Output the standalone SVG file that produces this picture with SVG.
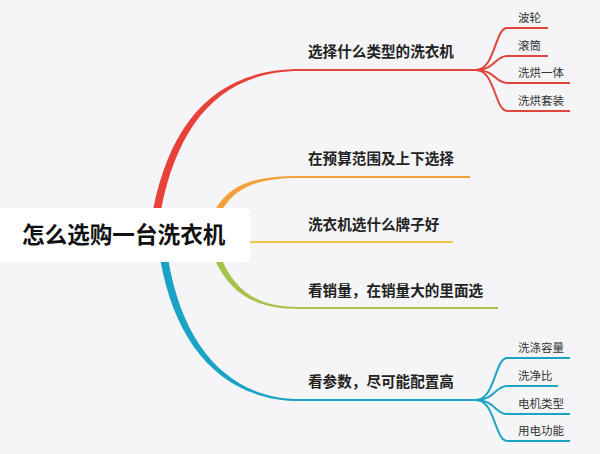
<svg xmlns="http://www.w3.org/2000/svg" width="600" height="454" viewBox="0 0 600 454">
<style>
.main{font-family:"Noto Sans CJK SC","Noto Sans",sans-serif;font-size:14.6px;font-weight:600;fill:#222}
.sub{font-family:"Noto Sans CJK SC","Noto Sans",sans-serif;font-size:11.5px;fill:#333}
.root{font-family:"Noto Sans CJK SC","Noto Sans",sans-serif;font-size:22.6px;font-weight:700;fill:#111}
.ln{fill:none;stroke-width:2}
.red{stroke:#e0453c}.org{stroke:#f2a03a}.yel{stroke:#f5c342}.grn{stroke:#a5c24a}.teal{stroke:#1ba3c4}
</style>
<rect width="600" height="454" fill="#f5f5f7"/>
<g id="connectors">
  <path d="M153,210 C171,119 218,69 300,69 L300,71 C222,71 178,122 161,210 Z" fill="#e8413a"/>
  <path class="ln red" d="M300,70 H478"/>
  <path d="M215,210 C230,184 254,176 300,176 L300,178 C257,178 236,187 222,210 Z" fill="#f2a03a"/>
  <path class="ln org" d="M300,177 H470"/>
  <path class="ln yel" d="M240,242 H453"/>
  <path d="M214,258 C230,294 255,309 300,309 L300,307 C259,307 236,293 221,258 Z" fill="#a5c24a"/>
  <path class="ln grn" d="M300,308 H498"/>
  <path d="M160,258 C176,352 228,401 300,401 L300,399 C232,399 183,350 168,258 Z" fill="#1ba3c4"/>
  <path class="ln teal" d="M300,400 H478"/>
  <g class="ln red" stroke-width="1.6">
    <path d="M476,70 C495,70 495,28 507,28 H548"/>
    <path d="M476,70 C495,70 495,56 507,56 H548"/>
    <path d="M476,70 C495,70 495,83 507,83 H570"/>
    <path d="M476,70 C495,70 495,111 507,111 H570"/>
  </g>
  <g class="ln teal" stroke-width="1.6">
    <path d="M476,400 C495,400 495,358 507,358 H570"/>
    <path d="M476,400 C495,400 495,386 507,386 H558"/>
    <path d="M476,400 C495,400 495,414 507,414 H570"/>
    <path d="M476,400 C495,400 495,441 507,441 H570"/>
  </g>
</g>
<g id="root">
  <rect x="-6" y="208" width="256" height="54" rx="5" fill="#ffffff"/>
  <text class="root" x="22" y="243">怎么选购一台洗衣机</text>
</g>
<g id="n1"><text class="main" x="308" y="57">选择什么类型的洗衣机</text></g>
<g id="n1a"><text class="sub" x="518" y="22">波轮</text></g>
<g id="n1b"><text class="sub" x="518" y="50">滚筒</text></g>
<g id="n1c"><text class="sub" x="518" y="77">洗烘一体</text></g>
<g id="n1d"><text class="sub" x="518" y="105">洗烘套装</text></g>
<g id="n2"><text class="main" x="308" y="164">在预算范围及上下选择</text></g>
<g id="n3"><text class="main" x="308" y="230">洗衣机选什么牌子好</text></g>
<g id="n4"><text class="main" x="308" y="296">看销量，在销量大的里面选</text></g>
<g id="n5"><text class="main" x="308" y="387">看参数，尽可能配置高</text></g>
<g id="n5a"><text class="sub" x="518" y="352">洗涤容量</text></g>
<g id="n5b"><text class="sub" x="518" y="380">洗净比</text></g>
<g id="n5c"><text class="sub" x="518" y="408">电机类型</text></g>
<g id="n5d"><text class="sub" x="518" y="435">用电功能</text></g>
</svg>
